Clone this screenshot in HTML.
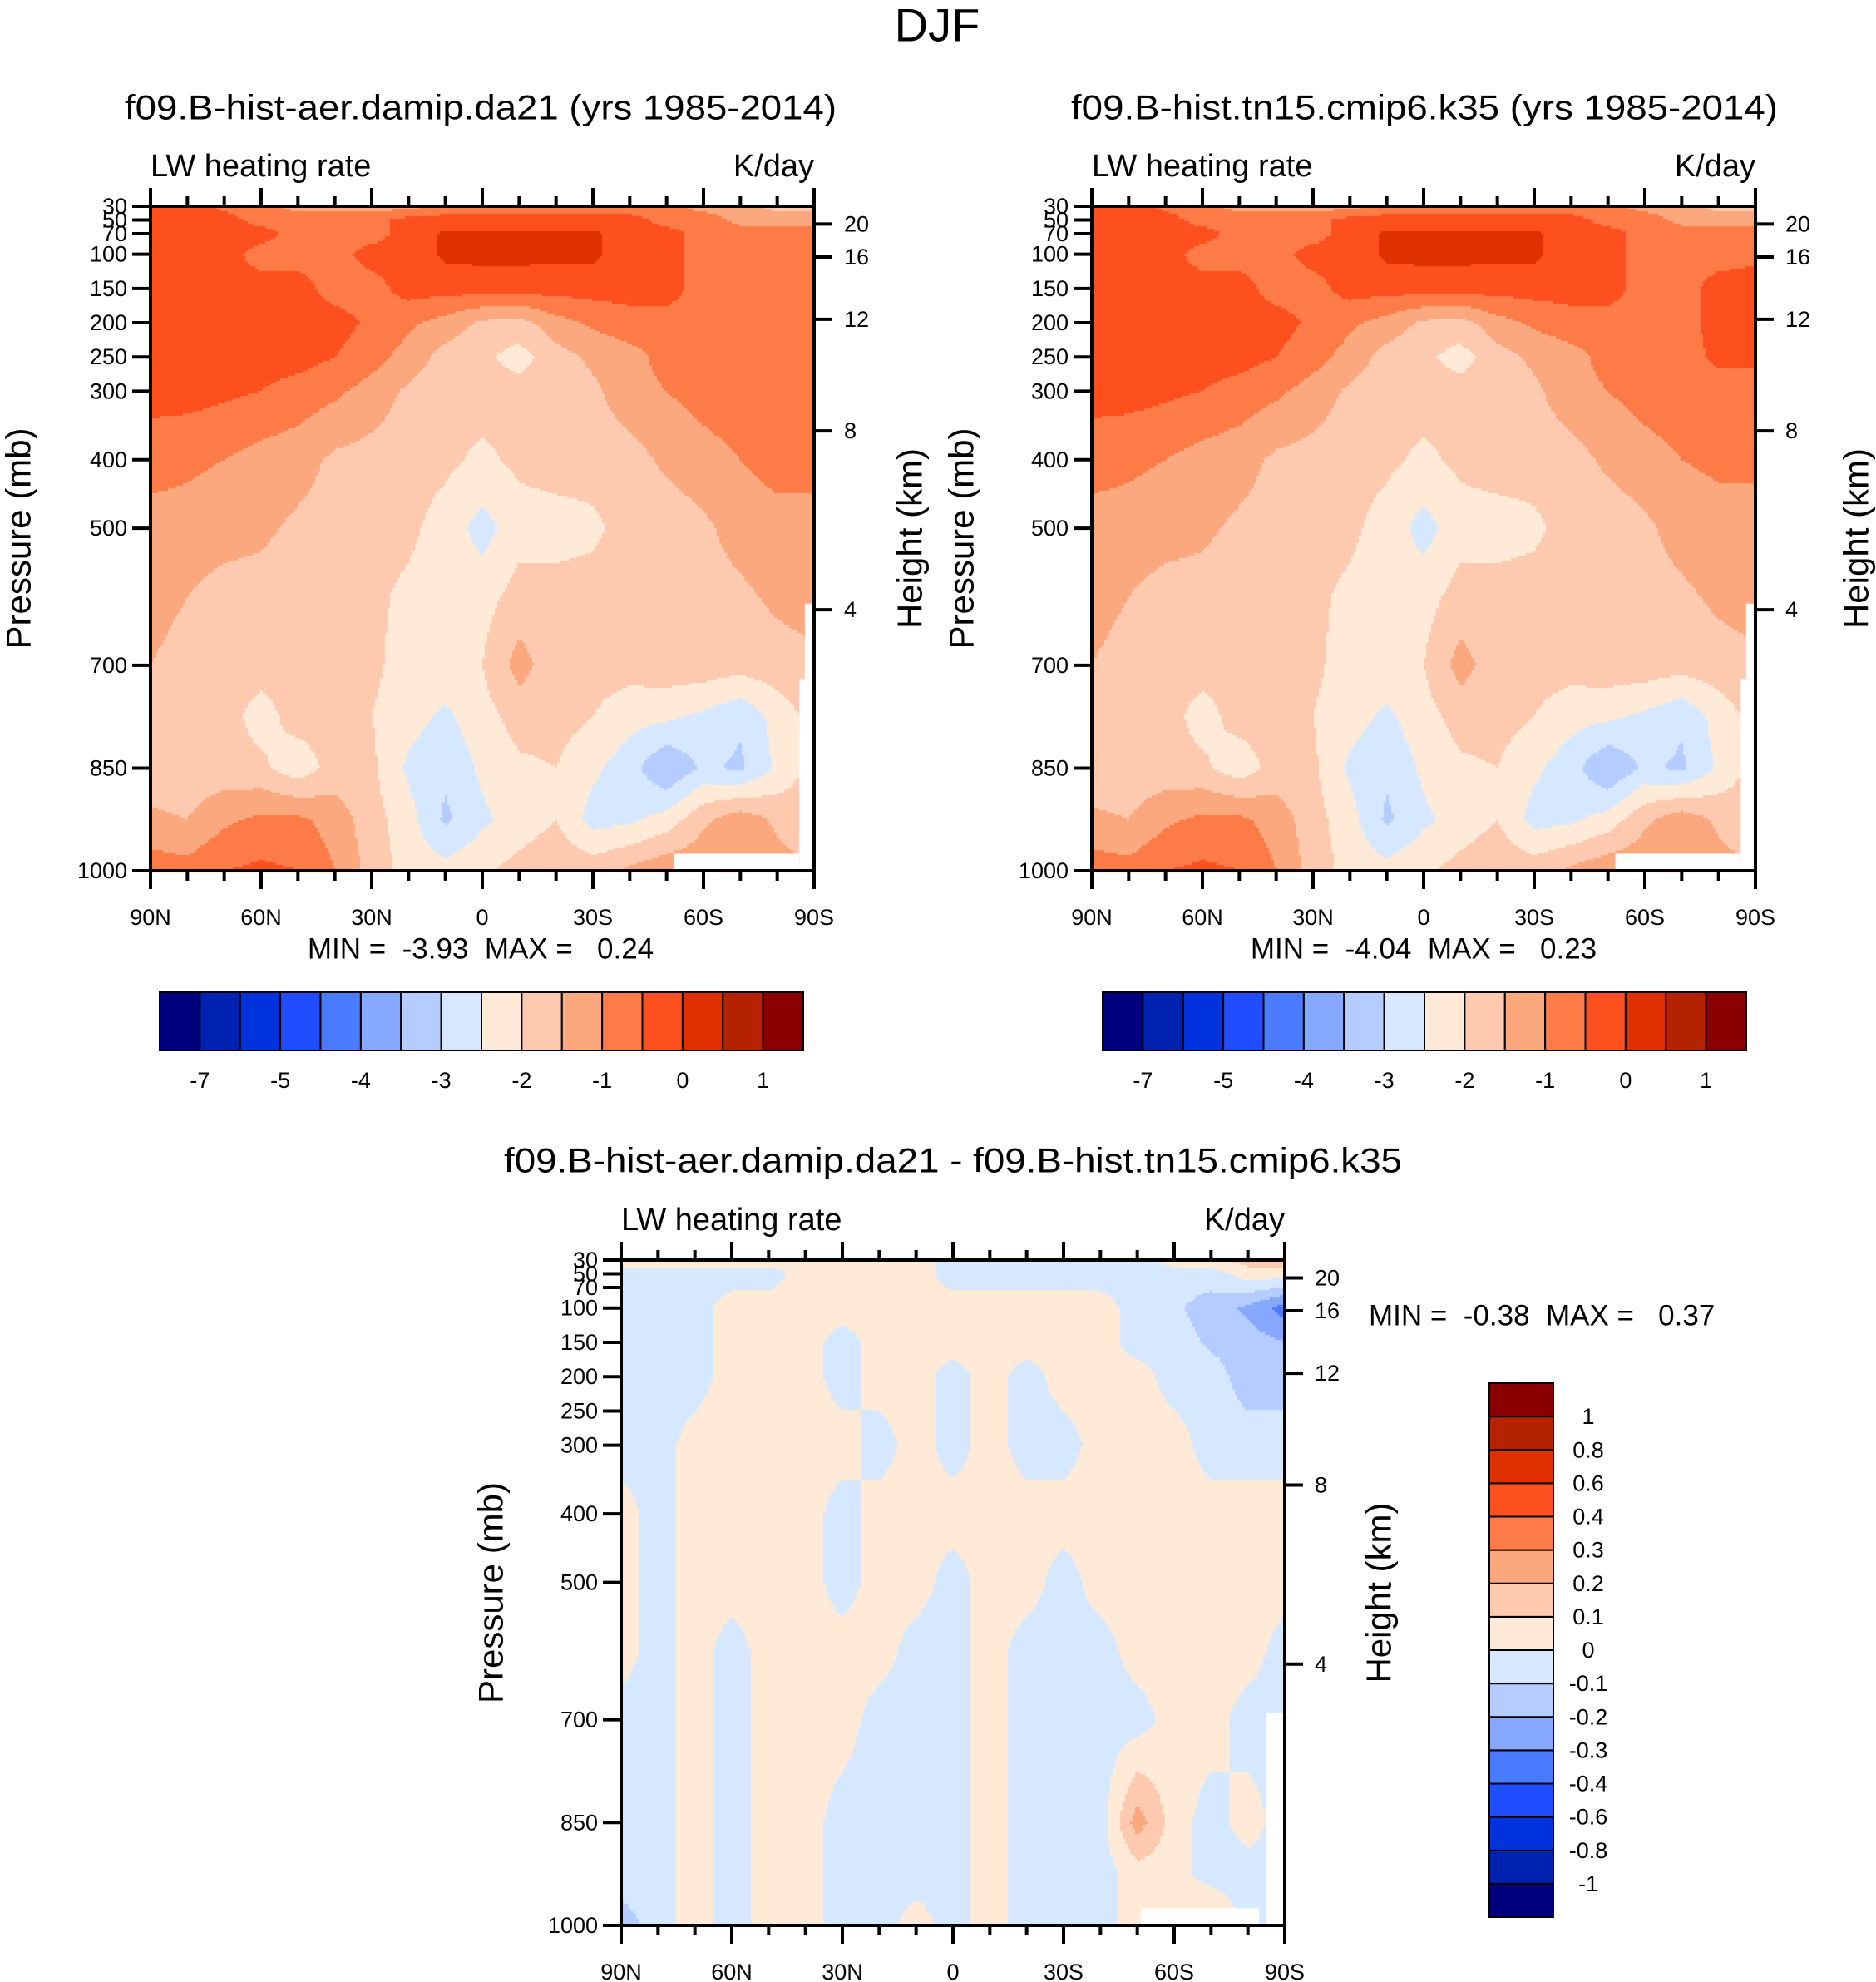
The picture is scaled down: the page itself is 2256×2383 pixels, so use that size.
<!DOCTYPE html>
<html><head><meta charset="utf-8">
<style>
html,body{margin:0;padding:0;background:#fff;}
#wrap{position:relative;width:2256px;height:2383px;overflow:hidden;background:#fff;}
canvas{position:absolute;left:0;top:0;}
svg{position:absolute;left:0;top:0;}
text{font-family:"Liberation Sans",sans-serif;fill:#000;}
.pre{white-space:pre;}
</style></head>
<body>
<div id="wrap">
<canvas id="cv" width="2256" height="2383"></canvas>
<svg id="sv" width="2256" height="2383" xmlns="http://www.w3.org/2000/svg"></svg>
</div>
<script>
// ---------- data ----------
const lats = [90,80,70,60,50,40,30,20,10,0,-10,-20,-30,-40,-50,-60,-70,-80,-90];
const levels = [30,50,70,100,150,200,250,300,400,500,600,700,775,850,925,1000];
const xTickLabels = ["90N","60N","30N","0","30S","60S","90S"];
const pTicks = [30,50,70,100,150,200,250,300,400,500,700,850,1000];
const hTickLabels = ["20","16","12","8","4"];
const hTickP = [56,104,195,358,619];
const absBounds = [-7,-6,-5,-4.5,-4,-3.5,-3,-2.5,-2,-1.5,-1,-0.5,0,0.5,1];
const absLabels = ["-7","-5","-4","-3","-2","-1","0","1"];
const diffBounds = [-1,-0.8,-0.6,-0.4,-0.3,-0.2,-0.1,0,0.1,0.2,0.3,0.4,0.6,0.8,1];
const diffLabels = ["-1","-0.8","-0.6","-0.4","-0.3","-0.2","-0.1","0","0.1","0.2","0.3","0.4","0.6","0.8","1"];
const palette = ["#00007f","#0022b0","#0033dd","#1f4dff","#4a7bff","#86a8ff","#b4ccff","#d6e8ff","#ffead8","#fdcab0","#fca87e","#fd7b47","#fd501e","#e03000","#b52200","#8a0000"];

const field1 = [
[-0.3,-0.3,-0.6,-0.8,-1.2,-1.2,-1.2,-1.2,-0.8,-0.8,-0.8,-0.8,-0.8,-0.8,-0.8,-1.2,-1.2,-1.7,-1.7],
[-0.3,-0.3,-0.3,-0.7,-0.7,-0.7,-0.7,-0.3,-0.3,-0.3,-0.3,-0.3,-0.3,-0.3,-0.7,-0.7,-1.2,-1.2,-1.2],
[-0.3,-0.3,-0.3,-0.3,-0.7,-0.7,-0.7,-0.3,0.1,0.1,0.1,0.1,0.1,-0.3,-0.3,-0.7,-0.7,-0.8,-0.8],
[-0.3,-0.3,-0.3,-0.7,-0.7,-0.7,-0.3,-0.3,0.1,0.15,0.15,0.1,0.1,-0.3,-0.3,-0.7,-0.7,-0.7,-0.7],
[-0.3,-0.3,-0.3,-0.3,-0.3,-0.7,-0.7,-0.3,-0.3,-0.3,-0.3,-0.3,-0.3,-0.3,-0.3,-0.7,-0.7,-0.7,-0.7],
[-0.3,-0.3,-0.3,-0.3,-0.3,-0.3,-0.6,-0.9,-1.2,-1.6,-1.7,-1.2,-0.9,-0.7,-0.7,-0.7,-0.7,-0.7,-0.7],
[-0.3,-0.3,-0.3,-0.3,-0.3,-0.5,-0.8,-1.2,-1.7,-1.9,-2.2,-1.7,-1.4,-1.2,-0.8,-0.7,-0.7,-0.7,-0.7],
[-0.3,-0.3,-0.4,-0.5,-0.7,-0.9,-1.2,-1.6,-1.8,-1.8,-1.8,-1.8,-1.6,-1.2,-1.0,-0.8,-0.7,-0.7,-0.7],
[-0.8,-0.9,-1.0,-1.2,-1.3,-1.6,-1.7,-1.8,-1.9,-2.1,-1.9,-1.8,-1.8,-1.7,-1.4,-1.2,-1.0,-0.8,-0.8],
[-1.2,-1.2,-1.3,-1.4,-1.6,-1.7,-1.8,-1.9,-2.2,-2.7,-2.2,-2.2,-2.1,-1.8,-1.8,-1.6,-1.3,-1.2,-1.2],
[-1.3,-1.5,-1.7,-1.7,-1.8,-1.8,-1.9,-2.1,-2.3,-2.2,-1.8,-1.8,-1.8,-1.7,-1.7,-1.7,-1.6,-1.4,-1.3],
[-1.5,-1.7,-1.8,-1.8,-1.8,-1.8,-1.9,-2.2,-2.2,-2.0,-1.3,-1.8,-1.8,-1.8,-1.7,-1.7,-1.8,-1.7,-1.6],
[-1.7,-1.8,-1.8,-2.2,-1.8,-1.8,-2.0,-2.3,-2.6,-2.2,-1.8,-1.8,-2.0,-2.3,-2.4,-2.6,-2.9,-2.3,-1.8],
[-1.8,-1.8,-1.8,-1.9,-2.3,-1.8,-1.9,-2.6,-2.9,-2.4,-2.1,-2.0,-2.4,-2.8,-3.5,-2.9,-3.1,-2.4,-1.8],
[-1.4,-1.5,-1.1,-0.9,-0.9,-1.2,-1.8,-2.3,-3.1,-2.6,-2.3,-2.0,-2.7,-2.6,-2.3,-1.6,-1.2,-1.6,-1.8],
[-0.7,-0.8,-0.5,-0.4,-0.5,-1.0,-1.7,-2.2,-2.3,-2.1,-1.8,-1.6,-1.7,-1.4,-1.1,-1.1,-0.9,-1.3,-1.5]];

const field2 = [
[-0.3,-0.3,-0.6,-0.8,-1.2,-1.2,-1.2,-1.2,-0.8,-0.8,-0.8,-0.8,-0.8,-0.8,-0.8,-1.2,-1.2,-1.7,-1.7],
[-0.3,-0.3,-0.3,-0.7,-0.7,-0.7,-0.7,-0.3,-0.3,-0.3,-0.3,-0.3,-0.3,-0.3,-0.7,-0.7,-1.2,-1.2,-1.2],
[-0.3,-0.3,-0.3,-0.3,-0.7,-0.7,-0.7,-0.3,0.1,0.1,0.1,0.1,0.1,-0.3,-0.3,-0.7,-0.7,-0.7,-0.7],
[-0.3,-0.3,-0.3,-0.7,-0.7,-0.7,-0.3,-0.3,0.1,0.15,0.15,0.1,0.1,-0.3,-0.3,-0.7,-0.7,-0.7,-0.6],
[-0.3,-0.3,-0.3,-0.3,-0.3,-0.7,-0.7,-0.3,-0.3,-0.3,-0.3,-0.3,-0.3,-0.3,-0.3,-0.7,-0.7,-0.3,-0.3],
[-0.3,-0.3,-0.3,-0.3,-0.3,-0.3,-0.6,-0.9,-1.2,-1.6,-1.7,-1.2,-0.9,-0.7,-0.7,-0.7,-0.7,-0.3,-0.3],
[-0.3,-0.3,-0.3,-0.3,-0.3,-0.5,-0.8,-1.2,-1.7,-1.9,-2.2,-1.7,-1.4,-1.2,-0.8,-0.7,-0.7,-0.4,-0.4],
[-0.3,-0.3,-0.4,-0.5,-0.7,-0.9,-1.2,-1.6,-1.8,-1.8,-1.8,-1.8,-1.6,-1.2,-1.0,-0.8,-0.7,-0.7,-0.7],
[-0.8,-0.9,-1.0,-1.2,-1.3,-1.6,-1.7,-1.8,-1.9,-2.1,-1.9,-1.8,-1.8,-1.7,-1.4,-1.2,-1.0,-0.9,-0.9],
[-1.2,-1.2,-1.3,-1.4,-1.6,-1.7,-1.8,-1.9,-2.2,-2.7,-2.2,-2.2,-2.1,-1.8,-1.8,-1.6,-1.3,-1.2,-1.2],
[-1.3,-1.5,-1.7,-1.7,-1.8,-1.8,-1.9,-2.1,-2.3,-2.2,-1.8,-1.8,-1.8,-1.7,-1.7,-1.7,-1.6,-1.4,-1.3],
[-1.5,-1.7,-1.8,-1.8,-1.8,-1.8,-1.9,-2.2,-2.2,-2.0,-1.3,-1.8,-1.8,-1.8,-1.7,-1.7,-1.8,-1.7,-1.6],
[-1.7,-1.8,-1.8,-2.2,-1.8,-1.8,-2.0,-2.3,-2.6,-2.2,-1.8,-1.8,-2.0,-2.3,-2.4,-2.6,-2.9,-2.3,-1.8],
[-1.8,-1.8,-1.8,-1.9,-2.3,-1.8,-1.9,-2.6,-2.9,-2.4,-2.1,-2.0,-2.4,-2.8,-3.5,-2.9,-3.1,-2.4,-1.8],
[-1.4,-1.5,-1.1,-0.9,-0.9,-1.2,-1.8,-2.3,-3.1,-2.6,-2.3,-2.0,-2.7,-2.6,-2.3,-1.6,-1.2,-1.6,-1.8],
[-0.7,-0.8,-0.5,-0.4,-0.5,-1.0,-1.7,-2.2,-2.3,-2.1,-1.8,-1.6,-1.7,-1.4,-1.1,-1.1,-0.9,-1.3,-1.5]];

const diffLevels = [30,50,100,150,200,300,400,500,600,700,850,925,1000];
const fieldDiff = [
[0.05,0.05,0.05,0.05,0.05,0.05,0.05,0.05,0.05,-0.05,-0.05,-0.05,-0.05,-0.05,-0.05,0.05,0.05,0.15,0.15],
[-0.05,-0.05,-0.05,-0.05,-0.05,0.05,0.05,0.05,0.05,-0.05,-0.05,-0.05,-0.05,-0.05,-0.05,-0.05,-0.05,0.05,0.05],
[-0.05,-0.05,-0.05,0.05,0.05,0.05,0.05,0.05,0.05,0.05,0.05,0.05,0.05,0.05,-0.05,-0.08,-0.15,-0.22,-0.35],
[-0.05,-0.05,-0.05,0.05,0.05,0.05,-0.05,0.05,0.05,0.05,0.05,0.05,0.05,0.05,-0.05,-0.05,-0.12,-0.15,-0.2],
[-0.05,-0.05,-0.05,0.05,0.05,0.05,-0.05,0.05,0.05,-0.05,0.05,-0.05,0.05,0.05,0.05,-0.05,-0.05,-0.15,-0.15],
[-0.05,-0.05,0.05,0.05,0.05,0.05,0.05,-0.05,0.05,-0.05,0.05,-0.05,-0.05,0.05,0.05,0.05,-0.05,-0.05,-0.05],
[0.05,-0.05,0.05,0.05,0.05,0.05,-0.05,0.05,0.05,0.05,0.05,0.05,0.05,0.05,0.05,0.05,0.05,0.05,0.05],
[0.05,-0.05,0.05,0.05,0.05,0.05,-0.05,0.05,0.05,-0.05,0.05,0.05,-0.05,0.05,0.05,0.05,0.05,0.05,0.05],
[0.05,-0.05,0.05,-0.05,0.05,0.05,0.05,0.05,-0.05,-0.05,0.05,-0.05,-0.05,-0.05,0.05,0.05,0.05,0.05,-0.05],
[-0.05,-0.05,0.05,-0.05,0.05,0.05,0.05,-0.05,-0.05,-0.05,0.05,-0.05,-0.05,-0.05,-0.05,0.05,0.05,-0.05,-0.05],
[-0.05,-0.05,0.05,-0.05,0.05,0.05,-0.05,-0.05,-0.05,-0.05,0.05,-0.05,-0.05,-0.05,0.25,0.05,-0.05,0.05,-0.05],
[-0.05,-0.05,0.05,-0.05,0.05,0.05,-0.05,-0.05,-0.05,-0.05,0.05,-0.05,-0.05,-0.05,0.05,0.05,-0.05,-0.05,-0.05],
[-0.15,-0.05,0.05,-0.05,0.05,0.05,-0.05,-0.05,0.05,-0.05,0.05,-0.05,-0.05,-0.05,0.05,0.05,0.15,-0.05,-0.05]];

// ---------- drawing ----------
const NS = "http://www.w3.org/2000/svg";
const sv = document.getElementById('sv');
const ctx = document.getElementById('cv').getContext('2d');
function el(tag, attrs, parent) {
  const e = document.createElementNS(NS, tag);
  for (const k in attrs) e.setAttribute(k, attrs[k]);
  (parent || sv).appendChild(e);
  return e;
}
function txt(s, x, y, size, anchor, name, extra) {
  const t = el('text', Object.assign({x:x, y:y, 'font-size':size, 'text-anchor':anchor||'middle', 'dominant-baseline':'central'}, extra||{}));
  t.textContent = s;
  
  
  return t;
}
function colorFor(v, bounds) {
  let i = 0;
  while (i < bounds.length && v >= bounds[i]) i++;
  return palette[i];
}
function sample(field, levs, lat, p) {
  let fi = (90 - lat) / 10;
  let i0 = Math.min(Math.floor(fi), lats.length - 2), fx = fi - i0;
  let j0 = 0;
  while (j0 < levs.length - 2 && p > levs[j0 + 1]) j0++;
  let fy = (p - levs[j0]) / (levs[j0 + 1] - levs[j0]);
  fy = Math.max(0, Math.min(1, fy));
  const a = field[j0][i0], b = field[j0][i0 + 1], c = field[j0 + 1][i0], d = field[j0 + 1][i0 + 1];
  return (a * (1 - fx) + b * fx) * (1 - fy) + (c * (1 - fx) + d * fx) * fy;
}

function panel(o) {
  const {x0, x1, y0, y1} = o;
  const xs = lat => x0 + (90 - lat) / 180 * (x1 - x0);
  const ys = p => y0 + (p - 30) / 970 * (y1 - y0);
  const step = 3;
  for (let py = y0; py < y1; py += step) {
    const p = 30 + (py + step / 2 - y0) / (y1 - y0) * 970;
    for (let px = x0; px < x1; px += step) {
      const lat = 90 - (px + step / 2 - x0) / (x1 - x0) * 180;
      ctx.fillStyle = colorFor(sample(o.field, o.levs, lat, p), o.bounds);
      ctx.fillRect(px, py, step, step);
    }
  }
  ctx.fillStyle = '#fff';
  o.masks.forEach(m => ctx.fillRect(xs(m[0]), ys(m[2]), xs(m[1]) - xs(m[0]), ys(m[3]) - ys(m[2])));
  const g = el('g', {});
  
  
  el('rect', {x:x0, y:y0, width:x1 - x0, height:y1 - y0, fill:'none', stroke:'#000', 'stroke-width':4}, g);
  for (let lat = 90; lat >= -90; lat -= 10) {
    const major = lat % 30 === 0, L = major ? 22 : 12, x = xs(lat);
    el('line', {x1:x, x2:x, y1:y0, y2:y0 - L, stroke:'#000', 'stroke-width':4}, g);
    el('line', {x1:x, x2:x, y1:y1, y2:y1 + L, stroke:'#000', 'stroke-width':4}, g);
  }
  xTickLabels.forEach((s, i) => txt(s, xs(90 - i * 30), y1 + 56, 27, 'middle', 'x-tick-label'));
  pTicks.forEach(p => {
    el('line', {x1:x0, x2:x0 - 22, y1:ys(p), y2:ys(p), stroke:'#000', 'stroke-width':4}, g);
    txt(String(p), x0 - 28, ys(p), 27, 'end', 'y-tick-label');
  });
  hTickP.forEach((p, i) => {
    el('line', {x1:x1, x2:x1 + 22, y1:ys(p), y2:ys(p), stroke:'#000', 'stroke-width':4}, g);
    txt(hTickLabels[i], x1 + 36, ys(p), 27, 'start', 'height-tick-label');
  });
  txt('LW heating rate', x0, y0 - 48, 38, 'start', 'variable-label');
  txt('K/day', x1, y0 - 48, 38, 'end', 'units-label');
  txt(o.title, o.titleX, o.titleY, 42, 'middle', 'panel-title', o.titleLen ? {textLength:o.titleLen, lengthAdjust:'spacingAndGlyphs'} : {});
  const my = (y0 + y1) / 2;
  txt('Pressure (mb)', o.pLabX, my, 42, 'middle', 'y-axis-title', {transform:`rotate(-90 ${o.pLabX} ${my})`});
  txt('Height (km)', o.hLabX, my, 42, 'middle', 'right-axis-title', {transform:`rotate(-90 ${o.hLabX} ${my})`});
  txt(o.minmax, o.mmX, o.mmY, 35, o.mmAnchor, 'min-max-label', {'class':'pre'});
}

function hbar(x0, x1, y0, y1, labels) {
  const w = (x1 - x0) / 16;
  palette.forEach((c, i) => {
    const r = el('rect', {x:x0 + i * w, y:y0, width:w, height:y1 - y0, fill:c, stroke:'#000', 'stroke-width':2});
    
    
  });
  labels.forEach((s, k) => txt(s, x0 + (1 + 2 * k) * w, y1 + 36, 27, 'middle', 'colorbar-label'));
}

txt('DJF', 1127, 30, 56, 'middle', 'figure-title');
const m1 = [[-52,-86,975,1000],[-86,-90,720,1000],[-87.5,-90,610,720]];
panel({name:'panel-aer', x0:181, x1:979, y0:248, y1:1047, field:field1, levs:levels, bounds:absBounds,
  masks:m1, title:'f09.B-hist-aer.damip.da21 (yrs 1985-2014)', titleX:578, titleY:129, titleLen:856,
  pLabX:22, hLabX:1094, minmax:'MIN =  -3.93  MAX =   0.24', mmX:578, mmY:1141, mmAnchor:'middle'});
hbar(192, 966, 1193, 1263, absLabels);
panel({name:'panel-cmip6', x0:1313, x1:2111, y0:248, y1:1047, field:field2, levs:levels, bounds:absBounds,
  masks:m1, title:'f09.B-hist.tn15.cmip6.k35 (yrs 1985-2014)', titleX:1713, titleY:129, titleLen:850,
  pLabX:1156, hLabX:2232, minmax:'MIN =  -4.04  MAX =   0.23', mmX:1712, mmY:1141, mmAnchor:'middle'});
hbar(1326, 2100, 1193, 1263, absLabels);
panel({name:'panel-difference', x0:747, x1:1545, y0:1515, y1:2315, field:fieldDiff, levs:diffLevels, bounds:diffBounds,
  masks:[[-51,-83,975,1000],[-85,-90,690,1000]], title:'f09.B-hist-aer.damip.da21 - f09.B-hist.tn15.cmip6.k35', titleX:1146, titleY:1395, titleLen:1080,
  pLabX:590, hLabX:1658, minmax:'MIN =  -0.38  MAX =   0.37', mmX:1646, mmY:1582, mmAnchor:'start'});
(function(){
  const x0 = 1791, x1 = 1868, y0 = 1663, y1 = 2305, h = (y1 - y0) / 16;
  palette.forEach((c, i) => {
    const r = el('rect', {x:x0, y:y1 - (i + 1) * h, width:x1 - x0, height:h, fill:c, stroke:'#000', 'stroke-width':2});
    
    
  });
  diffLabels.forEach((s, k) => txt(s, 1910, y1 - (k + 1) * h, 27, 'middle', 'diff-colorbar-label'));
})();
</script>
</body></html>
